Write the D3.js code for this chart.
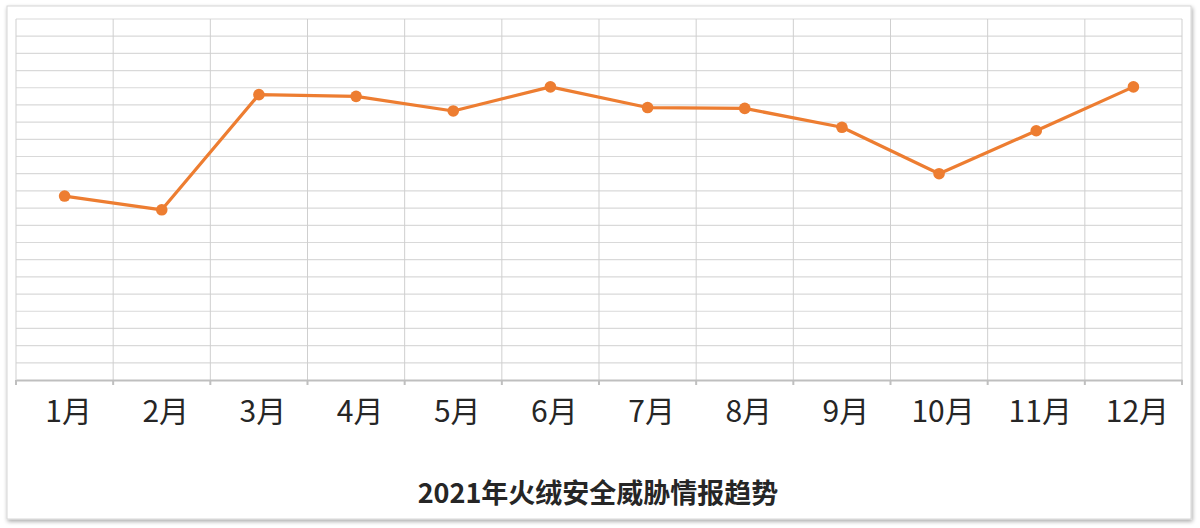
<!DOCTYPE html>
<html><head><meta charset="utf-8">
<script src="https://cdn.jsdelivr.net/npm/d3@7"></script>
<style>
html,body{margin:0;padding:0;background:#fff;}
svg{display:block;}
</style></head>
<body>
<svg id="c" width="1200" height="528"></svg>
<script>
const months = ["1月","2月","3月","4月","5月","6月","7月","8月","9月","10月","11月","12月"];
const values = [1070, 990, 1660, 1650, 1565, 1705, 1585, 1580, 1470, 1200, 1450, 1705];
const yTicks = d3.range(0, 2101, 100);
const title = "2021年火绒安全威胁情报趋势";

const svg = d3.select("#c");
const defs = svg.append("defs");
const f = defs.append("filter").attr("id","sh").attr("x","-5%").attr("y","-5%").attr("width","110%").attr("height","115%");
f.append("feGaussianBlur").attr("in","SourceAlpha").attr("stdDeviation",2);
f.append("feOffset").attr("dx",1).attr("dy",2).attr("result","b");
f.append("feComponentTransfer").append("feFuncA").attr("type","linear").attr("slope",0.35);
const m = f.append("feMerge"); m.append("feMergeNode"); m.append("feMergeNode").attr("in","SourceGraphic");

svg.append("rect").attr("x",7).attr("y",6).attr("width",1184).attr("height",513)
  .attr("fill","#fff").attr("stroke","#d6d6d6").attr("stroke-width",1).attr("filter","url(#sh)");

const L=16, R=1182, T=19, B=380;
const x = d3.scaleBand().domain(months).range([L,R]).padding(0);
const y = d3.scaleLinear().domain([0,2100]).range([B,T]);

// horizontal grid
svg.append("g").selectAll("line").data(yTicks.filter(d=>d>0)).join("line")
  .attr("x1",L).attr("x2",R).attr("y1",d=>y(d)).attr("y2",d=>y(d))
  .attr("stroke","#d9d9d9").attr("stroke-width",1.2);
// vertical grid
const bounds = months.map(mm=>x(mm)).concat([R]);
svg.append("g").selectAll("line").data(bounds).join("line")
  .attr("x1",d=>d).attr("x2",d=>d).attr("y1",T).attr("y2",B)
  .attr("stroke","#cfcfcf").attr("stroke-width",1);

// x axis
const ax = svg.append("g").attr("transform",`translate(0,${B})`)
  .call(d3.axisBottom(x).tickSize(0).tickPadding(18));
ax.select(".domain").attr("stroke","#bfbfbf").attr("stroke-width",2);
ax.selectAll("text").attr("font-family","'Noto Sans CJK SC','Noto Sans',sans-serif")
  .attr("font-size",30).attr("fill","#262626")
  .attr("dy",null).attr("y",42).attr("dx",4);
svg.append("g").selectAll("line").data(bounds).join("line")
  .attr("x1",d=>d).attr("x2",d=>d).attr("y1",B).attr("y2",B+5)
  .attr("stroke","#bfbfbf").attr("stroke-width",2);

// line
const cx = d => x(d) + x.bandwidth()/2;
const line = d3.line().x((d,i)=>cx(months[i])).y(d=>y(d));
svg.append("path").datum(values).attr("d",line).attr("fill","none")
  .attr("stroke","#ED7D31").attr("stroke-width",3.2).attr("stroke-linejoin","round");
svg.append("g").selectAll("circle").data(values).join("circle")
  .attr("cx",(d,i)=>cx(months[i])).attr("cy",d=>y(d)).attr("r",5.8)
  .attr("fill","#ED7D31");

svg.append("text").attr("x",598).attr("y",503).attr("text-anchor","middle")
  .attr("font-family","'Noto Sans CJK SC','Noto Sans',sans-serif").attr("font-weight","bold")
  .attr("font-size",27).attr("fill","#262626").text(title);
</script>
</body></html>
